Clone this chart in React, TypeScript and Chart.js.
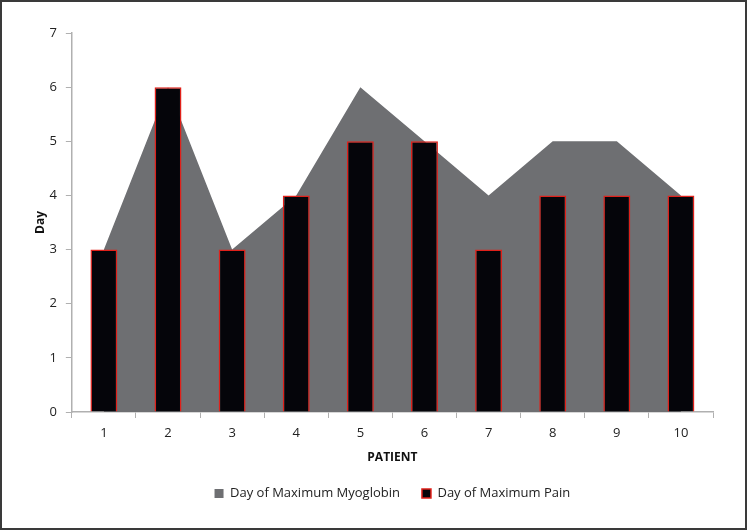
import React, { useEffect, useRef } from "react";
import { Chart, registerables } from "chart.js";

Chart.register(...registerables);

const patients = ["1", "2", "3", "4", "5", "6", "7", "8", "9", "10"];
const myoglobinDay = [3, 6, 3, 4, 6, 5, 4, 5, 5, 4];
const painDay = [3, 6, 3, 4, 5, 5, 3, 4, 4, 4];

export default function App() {
  const ref = useRef<HTMLCanvasElement>(null);
  useEffect(() => {
    document.body.style.margin = "0";
    const font = "'Open Sans', 'Liberation Sans', sans-serif";
    const chart = new Chart(ref.current!, {
      type: "bar",
      data: {
        labels: patients,
        datasets: [
          {
            type: "line",
            label: "Day of Maximum Myoglobin",
            data: myoglobinDay,
            backgroundColor: "#6e6f72",
            borderColor: "#6e6f72",
            borderWidth: 0,
            pointRadius: 0,
            tension: 0,
            fill: "origin",
            order: 2,
          } as any,
          {
            type: "bar",
            label: "Day of Maximum Pain",
            data: painDay,
            backgroundColor: "#05050a",
            borderColor: "#e0201a",
            borderWidth: 1.5,
            barPercentage: 0.42,
            categoryPercentage: 1,
            order: 1,
          },
        ],
      },
      options: {
        animation: false,
        responsive: false,
        maintainAspectRatio: false,
        layout: { padding: { left: 31, right: 32, top: 31, bottom: 18 } },
        plugins: {
          tooltip: { enabled: false },
          legend: {
            position: "bottom",
            fullSize: false,
            labels: {
              font: { family: font, size: 13 },
              color: "#222",
              boxWidth: 9,
              boxHeight: 9,
              padding: 22,
              sort: (a: any, b: any) => a.datasetIndex - b.datasetIndex,
            },
          },
        },
        scales: {
          x: {
            offset: true,
            grid: {
              display: true,
              drawOnChartArea: false,
              offset: true,
              tickLength: 6,
              color: "#b0b0b0",
            },
            border: { color: "#b0b0b0", width: 1.5 },
            ticks: { font: { family: font, size: 13 }, color: "#222", padding: 7 },
            title: {
              display: true,
              text: "PATIENT",
              font: { family: font, size: 12, weight: "bold" },
              color: "#111",
              padding: { top: 3, bottom: 0 },
            },
          },
          y: {
            min: 0,
            max: 7,
            ticks: { stepSize: 1, font: { family: font, size: 13 }, color: "#222", padding: 9 },
            grid: { display: true, drawOnChartArea: false, tickLength: 6, color: "#b0b0b0" },
            border: { color: "#b0b0b0", width: 1.5 },
            title: {
              display: true,
              text: "Day",
              font: { family: font, size: 12, weight: "bold" },
              color: "#111",
              padding: { top: 0, bottom: -7 },
            },
          },
        },
      },
    });
    return () => chart.destroy();
  }, []);
  return (
    <div
      style={{
        width: 747,
        height: 530,
        boxSizing: "border-box",
        border: "2px solid #3a3a3a",
        background: "#fff",
      }}
    >
      <canvas ref={ref} width={743} height={526} style={{ display: "block" }} />
    </div>
  );
}
